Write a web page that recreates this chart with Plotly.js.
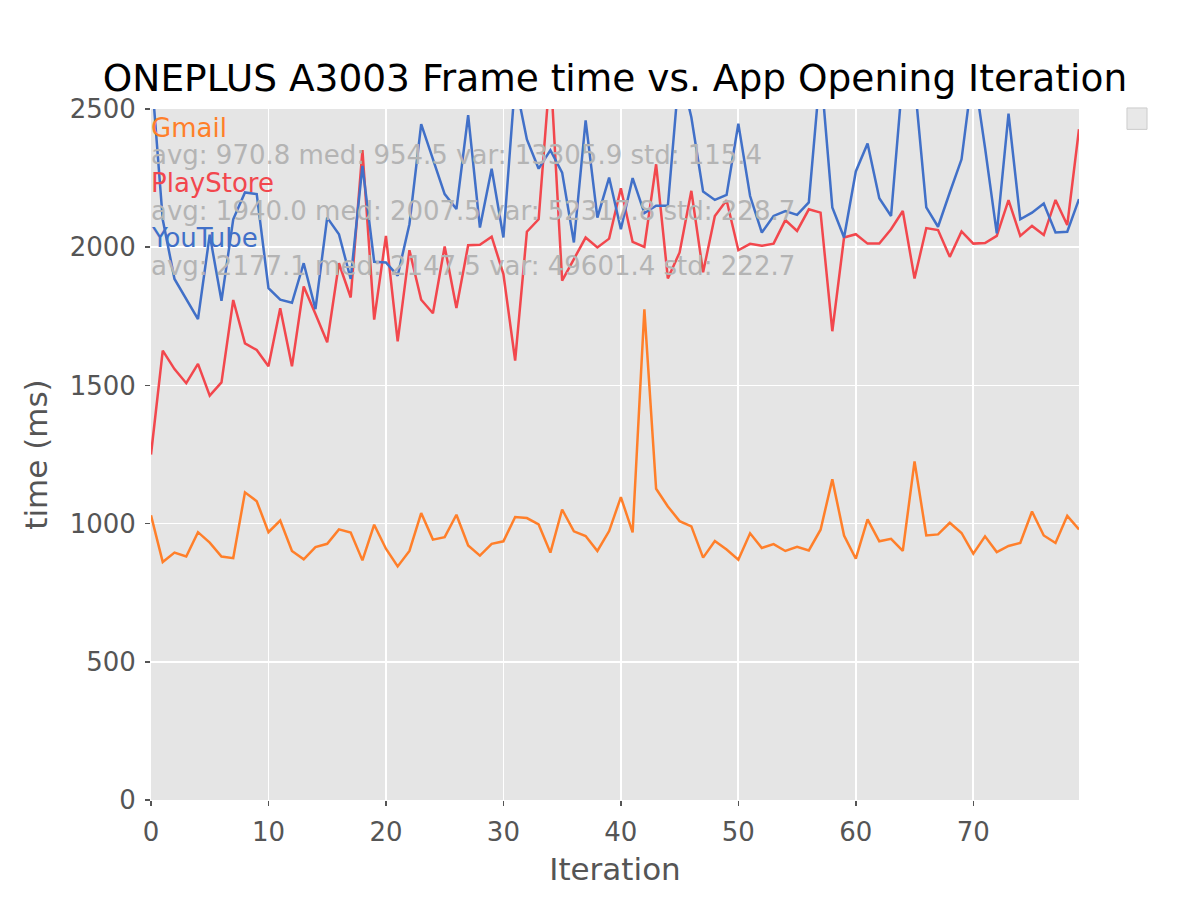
<!DOCTYPE html>
<html>
<head>
<meta charset="utf-8">
<script src="https://cdn.plot.ly/plotly-3.0.1.min.js"></script>
<style>
  html, body { margin: 0; padding: 0; background: #fff; }
  #plot { width: 1200px; height: 900px; }
</style>
</head>
<body>
<div id="plot"></div>
<script>
// frame time per app opening iteration (ms)
var gmail = [1030, 861, 895, 881, 969, 931, 881, 875, 1113, 1081,
             969, 1011, 901, 871, 915, 927, 979, 968, 867, 996,
             909, 845, 901, 1038, 942, 951, 1032, 921, 884, 927,
             936, 1024, 1020, 997, 895, 1051, 972, 955, 901, 973,
             1096, 968, 1775, 1126, 1062, 1009, 990, 877, 937, 906,
             869, 965, 912, 926, 901, 916, 903, 978, 1160, 957,
             873, 1015, 936, 945, 901, 1225, 957, 961, 1003, 966,
             891, 954, 897, 919, 930, 1044, 957, 930, 1028, 979];

var playstore = [1250, 1626, 1559, 1508, 1578, 1463, 1511, 1809, 1652, 1628,
                 1569, 1779, 1569, 1858, 1758, 1656, 1942, 1818, 2351, 1738,
                 2041, 1659, 1989, 1810, 1761, 2003, 1780, 2007, 2009, 2038,
                 1903, 1590, 2056, 2101, 2650, 1879, 1957, 2035, 1999, 2031,
                 2213, 2019, 2001, 2300, 1887, 1981, 2204, 1909, 2113, 2170,
                 1989, 2012, 2005, 2013, 2098, 2059, 2137, 2125, 1696, 2035,
                 2047, 2013, 2013, 2065, 2131, 1887, 2069, 2062, 1965, 2057,
                 2013, 2015, 2041, 2170, 2041, 2077, 2044, 2171, 2080, 2427];

var youtube = [2650, 2100, 1885, 1812, 1740, 2045, 1806, 2101, 2198, 2192,
               1852, 1810, 1799, 1942, 1776, 2107, 2047, 1885, 2294, 1947,
               1945, 1897, 2083, 2445, 2318, 2192, 2138, 2478, 2071, 2284,
               2035, 2600, 2390, 2284, 2351, 2270, 2017, 2459, 2107, 2252,
               2065, 2250, 2123, 2150, 2150, 2650, 2470, 2201, 2171, 2189,
               2447, 2185, 2053, 2113, 2131, 2117, 2162, 2650, 2144, 2035,
               2274, 2375, 2177, 2113, 2620, 2600, 2144, 2074, 2198, 2318,
               2650, 2360, 2050, 2483, 2101, 2125, 2158, 2053, 2056, 2174];

var seriesNames = ['Gmail', 'PlayStore', 'YouTube'];
var seriesColors = ['#FF7F2A', '#F2474D', '#4170C8'];
var statsText = [
  'avg: 970.8 med: 954.5 var: 13305.9 std: 115.4',
  'avg: 1940.0 med: 2007.5 var: 52317.8 std: 228.7',
  'avg: 2177.1 med: 2147.5 var: 49601.4 std: 222.7'
];

function range(n){
    return [...Array(n).keys()]
}

var allSeries = [gmail, playstore, youtube];
var traces = allSeries.map(function(vals, k){
    return {
        x: range(vals.length),
        y: vals,
        name: seriesNames[k],
        mode: 'lines',
        type: 'scatter',
        line: { color: seriesColors[k], width: 2.5 },
        showlegend: false,
        hoverinfo: 'skip'
    };
});

// name + stats labels, stacked 100 ms apart from 2400 down
var annotations = [];
seriesNames.forEach(function(name, k){
    var base = 2400 - 200 * k;
    annotations.push({
        x: 0, y: base, xref: 'x', yref: 'y',
        xanchor: 'left', yanchor: 'bottom', xshift: -2, yshift: -8,
        text: name, showarrow: false,
        font: { family: 'DejaVu Sans', size: 26, color: seriesColors[k] }
    });
    annotations.push({
        x: 0, y: base - 100, xref: 'x', yref: 'y',
        xanchor: 'left', yanchor: 'bottom', xshift: -2, yshift: -8,
        text: statsText[k], showarrow: false,
        font: { family: 'DejaVu Sans', size: 26, color: '#B4B4B4' }
    });
});

var axisCommon = {
    showgrid: true,
    gridcolor: '#FFFFFF',
    gridwidth: 1.8,
    zeroline: false,
    showline: false,
    ticks: 'outside',
    ticklen: 5,
    tickwidth: 1.5,
    tickcolor: '#555555',
    ticklabelstandoff: 4,
    tickfont: { family: 'DejaVu Sans', size: 26, color: '#555555' }
};

var layout = {
    width: 1200,
    height: 900,
    margin: { l: 151, r: 121, t: 109, b: 100 },
    paper_bgcolor: '#FFFFFF',
    plot_bgcolor: '#E5E5E5',
    font: { family: 'DejaVu Sans', color: '#555555' },
    title: {
        text: 'ONEPLUS A3003 Frame time vs. App Opening Iteration',
        font: { family: 'DejaVu Sans', size: 37.5, color: '#000000' },
        x: 0.5125, xanchor: 'center',
        y: 0.913, yanchor: 'middle'
    },
    xaxis: Object.assign({}, axisCommon, {
        range: [0, 79],
        tickvals: [0, 10, 20, 30, 40, 50, 60, 70],
        title: { text: 'Iteration', standoff: 12,
                 font: { family: 'DejaVu Sans', size: 31, color: '#555555' } }
    }),
    yaxis: Object.assign({}, axisCommon, {
        range: [0, 2500],
        tickvals: [0, 500, 1000, 1500, 2000, 2500],
        title: { text: 'time (ms)', standoff: 12,
                 font: { family: 'DejaVu Sans', size: 31, color: '#555555' } }
    }),
    annotations: annotations,
    shapes: [{
        // empty legend frame at top right
        type: 'rect', xref: 'paper', yref: 'paper',
        x0: 1.0517, x1: 1.0733, y0: 0.9705, y1: 1.0015,
        fillcolor: '#E8E8E8',
        line: { color: '#CCCCCC', width: 1 }
    }]
};

Plotly.newPlot('plot', traces, layout, { displayModeBar: false, staticPlot: true });
</script>
</body>
</html>
